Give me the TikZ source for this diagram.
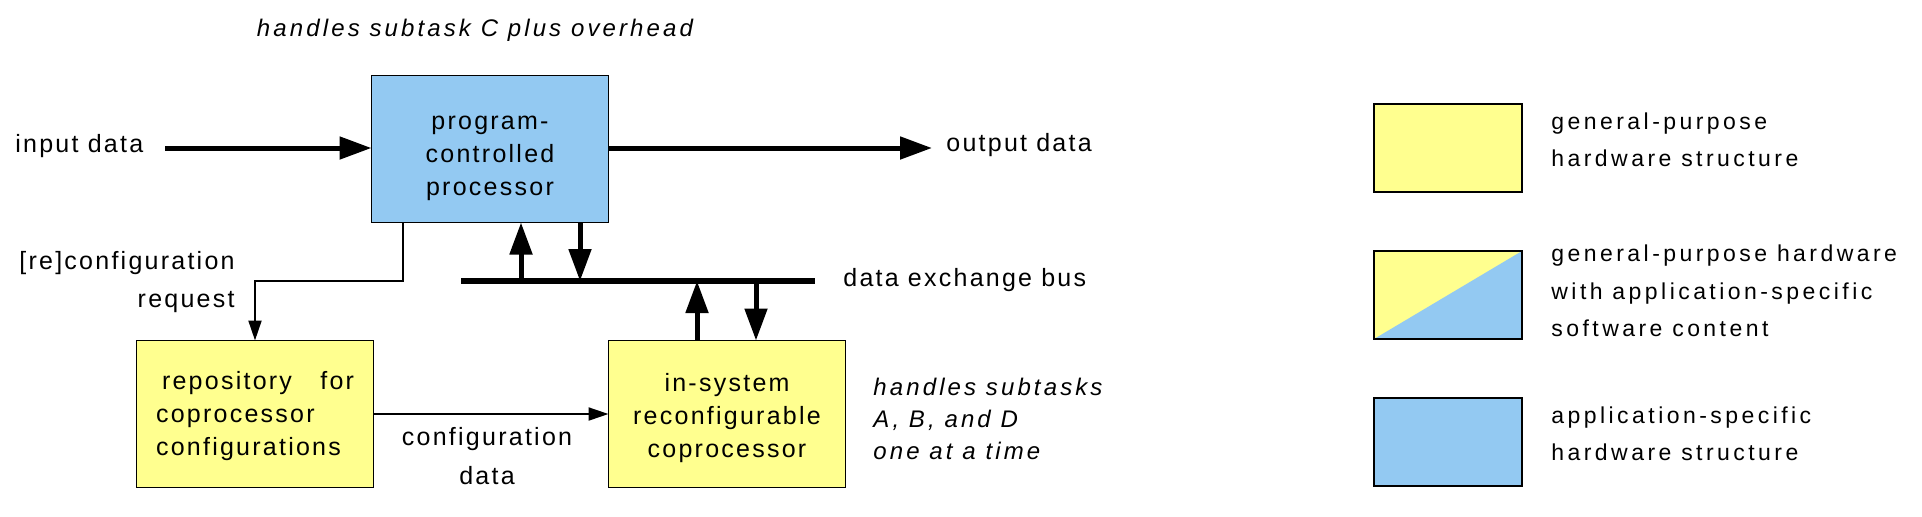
\documentclass[tikz,border=0pt]{standalone}
\usepackage{fontspec}
\setmainfont{Liberation Sans}
\newfontfamily\boxfont[LetterSpace=9]{Liberation Sans}
\newfontfamily\notefont[LetterSpace=13]{Liberation Sans}
\newfontfamily\legfont[LetterSpace=15]{Liberation Sans}
\usetikzlibrary{arrows.meta, positioning}
\definecolor{hwyellow}{RGB}{255,255,143}
\definecolor{hwblue}{RGB}{147,201,242}
\tikzstyle{blk}=[draw,line width=0.75pt,inner sep=0pt,outer sep=0pt,minimum width=118.5pt,minimum height=73.5pt,font=\boxfont\fontsize{12.5}{16.5}\selectfont,align=center]
\tikzstyle{lbl}=[inner sep=0pt,font=\boxfont\fontsize{12.5}{19}\selectfont]
\tikzstyle{note}=[inner sep=0pt,align=left,font=\notefont\itshape\fontsize{12}{16}\selectfont]
\tikzstyle{legbox}=[draw,line width=0.75pt,inner sep=0pt,minimum width=74pt,minimum height=44pt]
\tikzstyle{legtxt}=[anchor=west,inner sep=0pt,align=left,font=\legfont\fontsize{11.5}{18.75}\selectfont]
\tikzstyle{bigarrow}=[line width=2.5pt,-{Triangle[length=16pt,width=11pt]}]
\tikzstyle{smallarrow}=[line width=1pt,-{Triangle[length=10pt,width=6.5pt]}]

\begin{document}
\begin{tikzpicture}[x=0.5pt,y=-0.5pt]
\useasboundingbox (0,0) rectangle (1922,516);
% blocks
\node[blk,fill=hwblue] (proc) at (490,149) {\rule{0pt}{16pt}program-\\controlled\\processor};
\node[blk,fill=hwyellow,align=left,text width=99pt] (repo) at (255,414) {\rule{0pt}{11pt}\hspace*{3pt}repository\hfill for\\coprocessor\\configurations};
\node[blk,fill=hwyellow] (copro) at (727,414) {\rule{0pt}{13pt}in-system\\reconfigurable\\coprocessor};
% data exchange bus
\node[fill,inner sep=0pt,minimum width=176.7pt,minimum height=3pt] (bus) at (638,281) {};
\foreach \x/\n in {521/p1,580/p2,697/c1,756/c2} \coordinate (\n) at (\x,281);
\draw[bigarrow] (p1) -- (p1 |- proc.south);
\draw[bigarrow] (p2 |- proc.south) -- (p2);
\draw[bigarrow] (c1 |- copro.north) -- (c1);
\draw[bigarrow] (c2) -- (c2 |- copro.north);
\node[lbl,anchor=west] (buslbl) at (843,280) {data exchange bus};
% input and output
\coordinate (in) at (165,148);
\coordinate (out) at (932,148);
\draw[bigarrow] (in) -- (in -| proc.west);
\draw[bigarrow] (proc.east |- out) -- (out);
\node[lbl,anchor=west] (inlbl) at (15,146) {input data};
\node[lbl,anchor=west] (outlbl) at (946,145) {output data};
% configuration
\draw[smallarrow] ([xshift=15.5pt]proc.south west) -- ++(0,58) -| (repo.north);
\node[lbl,anchor=east,align=right] (reqlbl) at (235,282) {[re]configuration\\request};
\draw[smallarrow] (repo.east) -- (copro.west);
\node[lbl,align=center,font=\boxfont\fontsize{12.5}{19.5}\selectfont] (datalbl) at (487,456) {configuration\\data};
% notes
\node[note] (cnote) at (475,30) {handles subtask C plus overhead};
\node[note,anchor=west] (abdnote) at (873,419) {handles subtasks\\A, B, and D\\one at a time};
% legend
\node[legbox,fill=hwyellow] (lg) at (1448,148) {};
\node[legbox,fill=hwyellow,path picture={\fill[hwblue] (path picture bounding box.south west) -- (path picture bounding box.north east) |- cycle;}] (lm) at (1448,295) {};
\node[legbox,fill=hwblue] (la) at (1448,442) {};
\node[legtxt] (lgtxt) at (1551,140) {general-purpose\\hardware structure};
\node[legtxt] (lmtxt) at (1551,291) {general-purpose hardware\\with application-specific\\software content};
\node[legtxt] (latxt) at (1551,434) {application-specific\\hardware structure};
\end{tikzpicture}
\end{document}
